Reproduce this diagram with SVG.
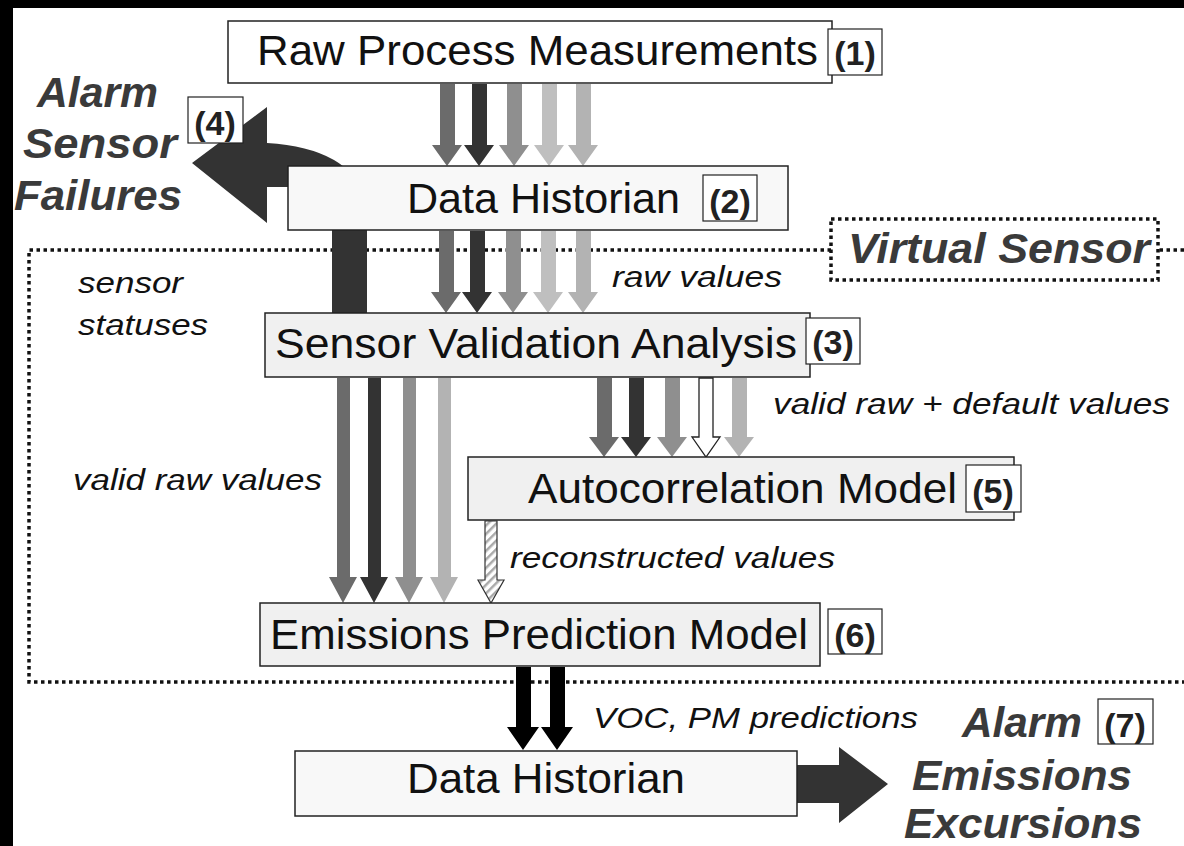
<svg xmlns="http://www.w3.org/2000/svg" width="1184" height="846" viewBox="0 0 1184 846">
<style>
.box{stroke:#222;stroke-width:1.5}
.lbl{fill:#fff;stroke:#222;stroke-width:1.2}
.t{font-family:"Liberation Sans",Arial,sans-serif;font-size:42px;fill:#111}
.n{font-family:"Liberation Sans",Arial,sans-serif;font-size:34px;font-weight:bold;fill:#222;text-anchor:middle}
.bi{font-family:"Liberation Sans",Arial,sans-serif;font-size:42px;font-weight:bold;font-style:italic;fill:#3a3a3a}
.it{font-family:"Liberation Sans",Arial,sans-serif;font-size:29px;font-style:italic;fill:#111}
.dot{fill:none;stroke:#111;stroke-width:3.5;stroke-dasharray:3.5 3.5}
.c1{fill:#6b6b6b}.c2{fill:#333}.c3{fill:#8f8f8f}.c4{fill:#bfbfbf}.c5{fill:#b3b3b3}
</style>
<defs>
<pattern id="hatch" patternUnits="userSpaceOnUse" width="6" height="6" patternTransform="rotate(-45)">
<rect width="6" height="6" fill="#fff"/>
<rect width="6" height="2.5" fill="#aaa"/>
</pattern>
</defs>
<rect width="1184" height="846" fill="#fff"/>
<rect width="1184" height="8" fill="#000"/>
<rect width="13" height="846" fill="#000"/>

<g id="virtual-sensor">
<path class="dot" d="M1184,250 H1158 M831,250 H29 V682 H1184"/>
<rect class="dot" x="831" y="219" width="327" height="61"/>
<text class="bi" x="848" y="263" font-size="38" textLength="302" lengthAdjust="spacingAndGlyphs">Virtual Sensor</text>
</g>

<g id="connectors">
<path class="c2" d="M367,235 L367,200 Q350,148 267,143 L267,107 L192,163 L267,223 L267,187 L332,187 L332,313 L367,313 Z"/>
<g id="set1">
<polygon class="c1" points="440,84 455,84 455,145 462,145 447,166 432,145 440,145"/>
<polygon class="c2" points="472,84 487,84 487,145 494,145 479,166 464,145 472,145"/>
<polygon class="c3" points="507,84 522,84 522,145 529,145 514,166 499,145 507,145"/>
<polygon class="c4" points="542,84 557,84 557,145 564,145 549,166 534,145 542,145"/>
<polygon class="c5" points="576,84 591,84 591,145 598,145 583,166 568,145 576,145"/>
</g>
<g id="set2">
<polygon class="c1" points="439,231 454,231 454,292 461,292 446,313 431,292 439,292"/>
<polygon class="c2" points="470,231 485,231 485,292 492,292 477,313 462,292 470,292"/>
<polygon class="c3" points="506,231 521,231 521,292 528,292 513,313 498,292 506,292"/>
<polygon class="c4" points="541,231 556,231 556,292 563,292 548,313 533,292 541,292"/>
<polygon class="c5" points="576,231 591,231 591,292 598,292 583,313 568,292 576,292"/>
</g>
<g id="set3">
<polygon class="c1" points="597,378 612,378 612,437 619,437 604,457 589,437 597,437"/>
<polygon class="c2" points="629,378 644,378 644,437 651,437 636,457 621,437 629,437"/>
<polygon class="c3" points="665,378 680,378 680,437 687,437 672,457 657,437 665,437"/>
<polygon fill="#fff" stroke="#222" stroke-width="1.3" points="699,378 713,378 713,437 720,437 706,457 692,437 699,437"/>
<polygon class="c5" points="732,378 747,378 747,437 754,437 739,457 724,437 732,437"/>
</g>
<g id="set4">
<polygon class="c1" points="337,378 350,378 350,577 357,577 343,603 329,577 337,577"/>
<polygon class="c2" points="368,378 381,378 381,577 388,577 374,603 360,577 368,577"/>
<polygon class="c3" points="403,378 416,378 416,577 423,577 409,603 395,577 403,577"/>
<polygon class="c5" points="438,378 451,378 451,577 458,577 444,603 430,577 438,577"/>
</g>
<polygon fill="url(#hatch)" stroke="#333" stroke-width="1.2" points="485,521 497,521 497,580 504,580 491,603 478,580 485,580"/>
<g id="set5">
<polygon fill="#000" points="516,667 531,667 531,727 539,727 523,750 507,727 516,727"/>
<polygon fill="#000" points="550,667 565,667 565,727 573,727 557,750 541,727 550,727"/>
</g>
<polygon class="c2" points="796,765 839,765 839,747 888,784 839,823 839,803 796,803"/>
</g>

<g id="n1">
<rect class="box" x="228" y="21" width="604" height="62" fill="#fff"/>
<text class="t" x="257" y="65" textLength="561" lengthAdjust="spacingAndGlyphs">Raw Process Measurements</text>
<rect class="lbl" x="828" y="29" width="54" height="46"/>
<text class="n" x="855" y="65">(1)</text>
</g>
<g id="n2">
<rect class="box" x="288" y="166" width="500" height="64" fill="#f8f8f8"/>
<text class="t" x="407" y="213" textLength="273" lengthAdjust="spacingAndGlyphs">Data Historian</text>
<rect class="lbl" x="703" y="175" width="54" height="46"/>
<text class="n" x="730" y="213">(2)</text>
</g>
<g id="n3">
<rect class="box" x="265" y="313" width="545" height="64" fill="#f0f0f0"/>
<text class="t" x="275" y="358" textLength="522" lengthAdjust="spacingAndGlyphs">Sensor Validation Analysis</text>
<rect class="lbl" x="806" y="318" width="54" height="46"/>
<text class="n" x="833" y="354">(3)</text>
</g>
<g id="n4">
<text class="bi" x="37" y="107" textLength="121" lengthAdjust="spacingAndGlyphs">Alarm</text>
<text class="bi" x="23" y="158" textLength="154" lengthAdjust="spacingAndGlyphs">Sensor</text>
<text class="bi" x="14" y="210" textLength="168" lengthAdjust="spacingAndGlyphs">Failures</text>
<rect class="lbl" x="188" y="97" width="55" height="46"/>
<text class="n" x="215" y="135">(4)</text>
</g>
<g id="n5">
<rect class="box" x="468" y="457" width="546" height="63" fill="#f0f0f0"/>
<text class="t" x="528" y="503" textLength="429" lengthAdjust="spacingAndGlyphs">Autocorrelation Model</text>
<rect class="lbl" x="966" y="465" width="55" height="47"/>
<text class="n" x="993" y="503">(5)</text>
</g>
<g id="n6">
<rect class="box" x="260" y="603" width="560" height="63" fill="#f0f0f0"/>
<text class="t" x="270" y="649" textLength="538" lengthAdjust="spacingAndGlyphs">Emissions Prediction Model</text>
<rect class="lbl" x="828" y="609" width="54" height="45"/>
<text class="n" x="855" y="647">(6)</text>
</g>
<g id="n7">
<rect class="box" x="295" y="751" width="502" height="65" fill="#f8f8f8"/>
<text class="t" x="407" y="793" textLength="278" lengthAdjust="spacingAndGlyphs">Data Historian</text>
</g>
<g id="n8">
<text class="bi" x="962" y="737" textLength="120" lengthAdjust="spacingAndGlyphs">Alarm</text>
<rect class="lbl" x="1098" y="699" width="55" height="45"/>
<text class="n" x="1125" y="737">(7)</text>
<text class="bi" x="912" y="790" textLength="220" lengthAdjust="spacingAndGlyphs">Emissions</text>
<text class="bi" x="904" y="838" font-size="39" textLength="238" lengthAdjust="spacingAndGlyphs">Excursions</text>
</g>

<g id="labels">
<text class="it" x="612" y="287" textLength="170" lengthAdjust="spacingAndGlyphs">raw values</text>
<text class="it" x="78" y="293" textLength="105" lengthAdjust="spacingAndGlyphs">sensor</text>
<text class="it" x="78" y="335" textLength="130" lengthAdjust="spacingAndGlyphs">statuses</text>
<text class="it" x="73" y="490" textLength="249" lengthAdjust="spacingAndGlyphs">valid raw values</text>
<text class="it" x="773" y="414" textLength="397" lengthAdjust="spacingAndGlyphs">valid raw + default values</text>
<text class="it" x="510" y="568" textLength="325" lengthAdjust="spacingAndGlyphs">reconstructed values</text>
<text class="it" x="593" y="728" textLength="325" lengthAdjust="spacingAndGlyphs">VOC, PM predictions</text>
</g>
</svg>
